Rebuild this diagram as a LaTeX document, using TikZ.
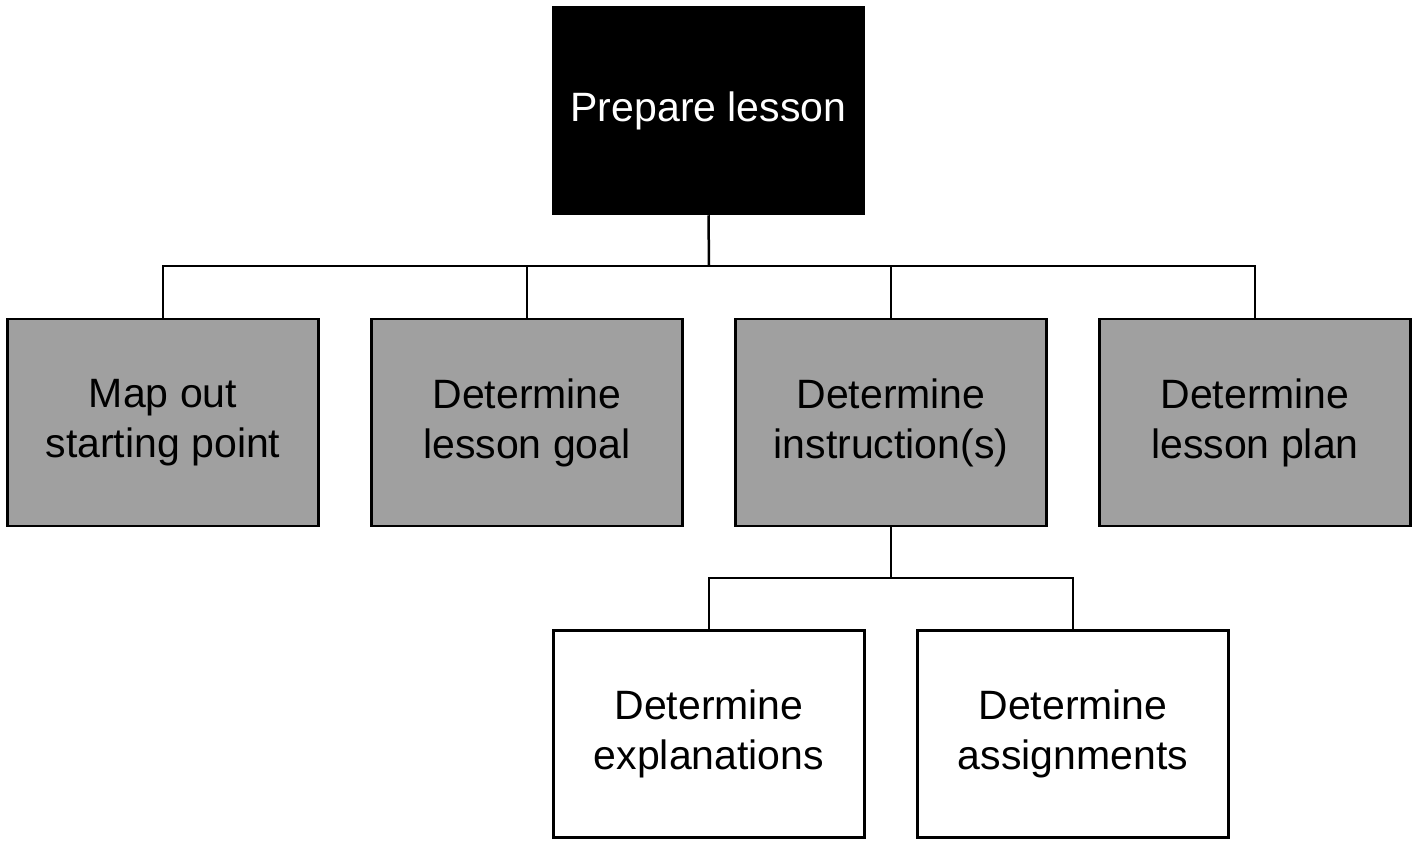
\documentclass[tikz,border=0pt]{standalone}
\usepackage{fontspec}
\setmainfont{Liberation Sans}
\definecolor{boxgray}{RGB}{160,160,160}
\tikzset{
  box/.style={draw,line width=2.5pt,minimum width=311pt,minimum height=207pt,
    align=center,font=\fontsize{41}{50}\selectfont,inner sep=0pt},
  link/.style={line width=2.5pt}
}
\begin{document}
\begin{tikzpicture}[x=1pt,y=-1pt]
    \useasboundingbox (0,0) rectangle (1418,846);
    \node[box,fill=black,text=white] (P) at (708.5,110.5) {Prepare lesson};
    \node[box,fill=boxgray] (S) at (163,422.5) {Map out\\starting point};
    \node[box,fill=boxgray] (G) at (527,422.5) {Determine\\lesson goal};
    \node[box,fill=boxgray] (I) at (891,422.5) {Determine\\instruction(s)};
    \node[box,fill=boxgray] (L) at (1255,422.5) {Determine\\lesson plan};
    \node[box,fill=white] (E) at (709,734) {Determine\\explanations};
    \node[box,fill=white] (A) at (1073,734) {Determine\\assignments};
    \coordinate (b1) at (709,266);
    \coordinate (b2) at (891,578);
    \draw[link] (P.south) -- (b1);
    \foreach \n in {S,G,I,L}
      \draw[link] (b1) -| (\n.north);
    \draw[link] (I.south) -- (b2);
    \foreach \n in {E,A}
      \draw[link] (b2) -| (\n.north);
  \end{tikzpicture}
\end{document}
